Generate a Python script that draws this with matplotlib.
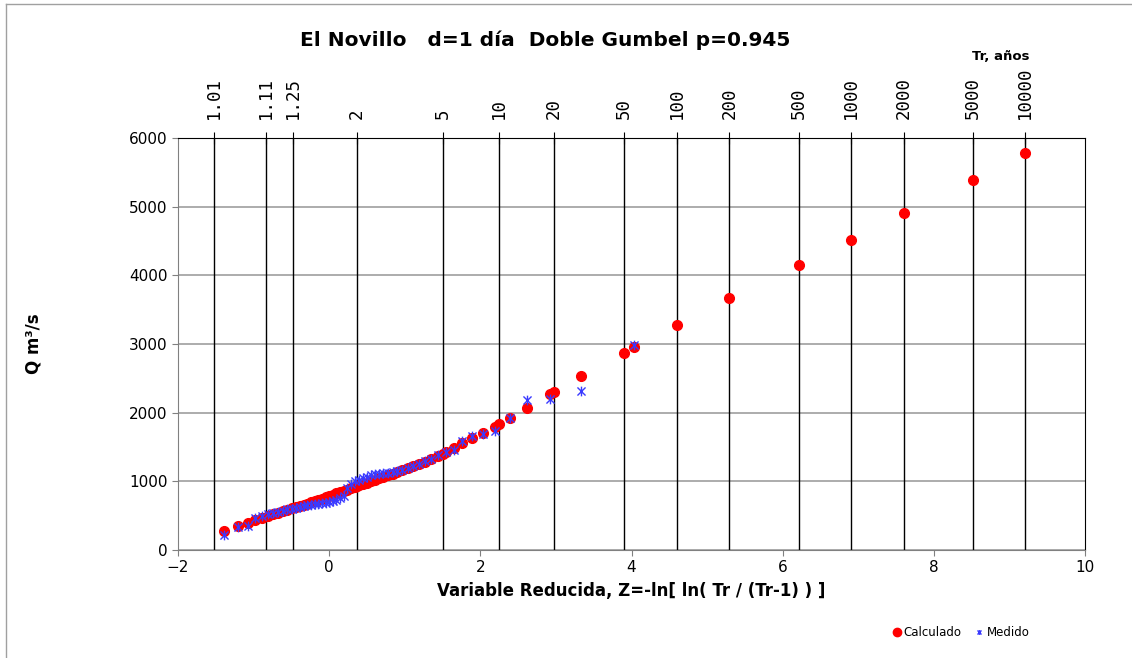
import numpy as np
import matplotlib
matplotlib.use("Agg")
import matplotlib.pyplot as plt
from matplotlib.path import Path
from matplotlib.lines import Line2D

# return periods shown on the top axis
tr_values = [1.01, 1.11, 1.25, 2, 5, 10, 20, 50, 100, 200, 500, 1000, 2000, 5000, 10000]
tr_labels = ["1.01", "1.11", "1.25", "2", "5", "10", "20", "50", "100", "200",
             "500", "1000", "2000", "5000", "10000"]

# reduced variate of the 56 measured annual maxima (plotting positions)
z_med = [-1.397, -1.209, -1.080, -0.977, -0.889, -0.812, -0.741, -0.675, -0.613, -0.554,
         -0.498, -0.444, -0.391, -0.339, -0.289, -0.239, -0.191, -0.142, -0.094, -0.046,
         0.001, 0.049, 0.097, 0.145, 0.193, 0.242, 0.291, 0.341, 0.392, 0.443,
         0.496, 0.549, 0.604, 0.660, 0.718, 0.778, 0.839, 0.903, 0.969, 1.038,
         1.110, 1.186, 1.266, 1.352, 1.442, 1.540, 1.646, 1.761, 1.889, 2.032,
         2.196, 2.388, 2.621, 2.918, 3.332, 4.034]

q_med = [218, 335, 345, 470, 500, 525, 545, 560, 575, 590,
         600, 615, 630, 640, 650, 658, 665, 672, 680, 690,
         700, 715, 735, 760, 790, 900, 960, 1000, 1020, 1050,
         1070, 1085, 1100, 1110, 1120, 1125, 1135, 1145, 1160, 1190,
         1220, 1250, 1290, 1330, 1380, 1430, 1460, 1590, 1665, 1690,
         1732, 1921, 2180, 2198, 2320, 2990]

q_calc = [277, 345, 393, 435, 468, 495, 520, 543, 564, 584,
          605, 623, 641, 659, 677, 695, 713, 731, 750, 768,
          786, 805, 824, 843, 862, 881, 900, 920, 940, 960,
          980, 1000, 1021, 1043, 1065, 1088, 1111, 1136, 1162, 1190,
          1220, 1252, 1288, 1328, 1374, 1426, 1490, 1558, 1630, 1705,
          1790, 1921, 2075, 2270, 2533, 2955]

# calculated quantiles at the return periods of the grid
tr_grid = [2, 5, 10, 20, 50, 100, 200, 500, 1000, 2000, 5000, 10000]
q_grid = [932, 1405, 1830, 2300, 2868, 3275, 3668, 4148, 4512, 4905, 5386, 5779]


def gumbel_z(tr):
    tr = np.asarray(tr, dtype=float)
    return -np.log(np.log(tr / (tr - 1)))


star = Path([(-1, -1), (1, 1), (-1, 1), (1, -1), (0, -1.2), (0, 1.2)],
            [Path.MOVETO, Path.LINETO, Path.MOVETO, Path.LINETO, Path.MOVETO, Path.LINETO])

fig = plt.figure(figsize=(11.32, 6.58), dpi=100)
ax = fig.add_axes([178 / 1132, 1 - 550 / 658, 907 / 1132, 412 / 658])

ax.set_xlim(-2, 10)
ax.set_ylim(0, 6000)
ax.set_yticks(range(0, 6001, 1000))
ax.set_xticks(range(-2, 11, 2))
ax.grid(axis='y', color='#a6a6a6', lw=1.3)
ax.set_axisbelow(True)

z_lines = gumbel_z(tr_values)
ax.vlines(z_lines, 0, 6000, color='black', lw=1, zorder=2)

ax.plot(z_med, q_calc, 'o', color='red', ms=7, mec='red', zorder=3)
ax.plot(gumbel_z(tr_grid), q_grid, 'o', color='red', ms=7, mec='red', zorder=3)
ax.plot(z_med, q_med, ls='none', marker=star, ms=7, mec='#3a3aff', mfc='none',
        mew=1.0, zorder=4)

for s in ['left', 'bottom']:
    ax.spines[s].set_color('#808080')
ax.spines['top'].set_color('black')
ax.spines['right'].set_color('black')
ax.tick_params(axis='both', colors='#808080', labelcolor='black', labelsize=11,
               length=4, direction='out')

ax.set_xlabel("Variable Reducida, Z=-ln[ ln( Tr / (Tr-1) ) ]", fontsize=12,
              fontweight='bold', labelpad=5)
ax.set_ylabel("Q m³/s", fontsize=12, fontweight='bold', labelpad=62)

top = ax.twiny()
top.set_xlim(ax.get_xlim())
top.set_xticks(z_lines)
top.set_xticklabels(tr_labels, rotation=90, family='DejaVu Sans Mono', fontsize=12.5)
top.tick_params(axis='x', direction='inout', length=8, color='black', pad=10)
for s in top.spines.values():
    s.set_visible(False)

fig.text(545 / 1132, 1 - 40 / 658, "El Novillo   d=1 día  Doble Gumbel p=0.945",
         ha='center', va='center', fontsize=14.5, fontweight='bold')
fig.text(1001 / 1132, 1 - 56 / 658, "Tr, años", ha='center', va='center',
         fontsize=9.5, fontweight='bold')

handles = [Line2D([], [], ls='none', marker='o', color='red', ms=6),
           Line2D([], [], ls='none', marker=star, ms=3.5, mec='#3a3aff', mew=1)]
fig.legend(handles, ["Calculado", "Medido"], loc='center', ncol=2, frameon=False,
           bbox_to_anchor=(960 / 1132, 1 - 633 / 658), fontsize=8.5,
           handletextpad=0.1, columnspacing=1.0, handlelength=1.0)

# chart area border (top and left edges visible)
fig.add_artist(Line2D([6 / 1132, 6 / 1132], [0, 1 - 4 / 658], transform=fig.transFigure,
                      color='#a0a0a0', lw=1))
fig.add_artist(Line2D([6 / 1132, 1], [1 - 4 / 658, 1 - 4 / 658], transform=fig.transFigure,
                      color='#a0a0a0', lw=1))

fig.savefig("out.png", dpi=100)
